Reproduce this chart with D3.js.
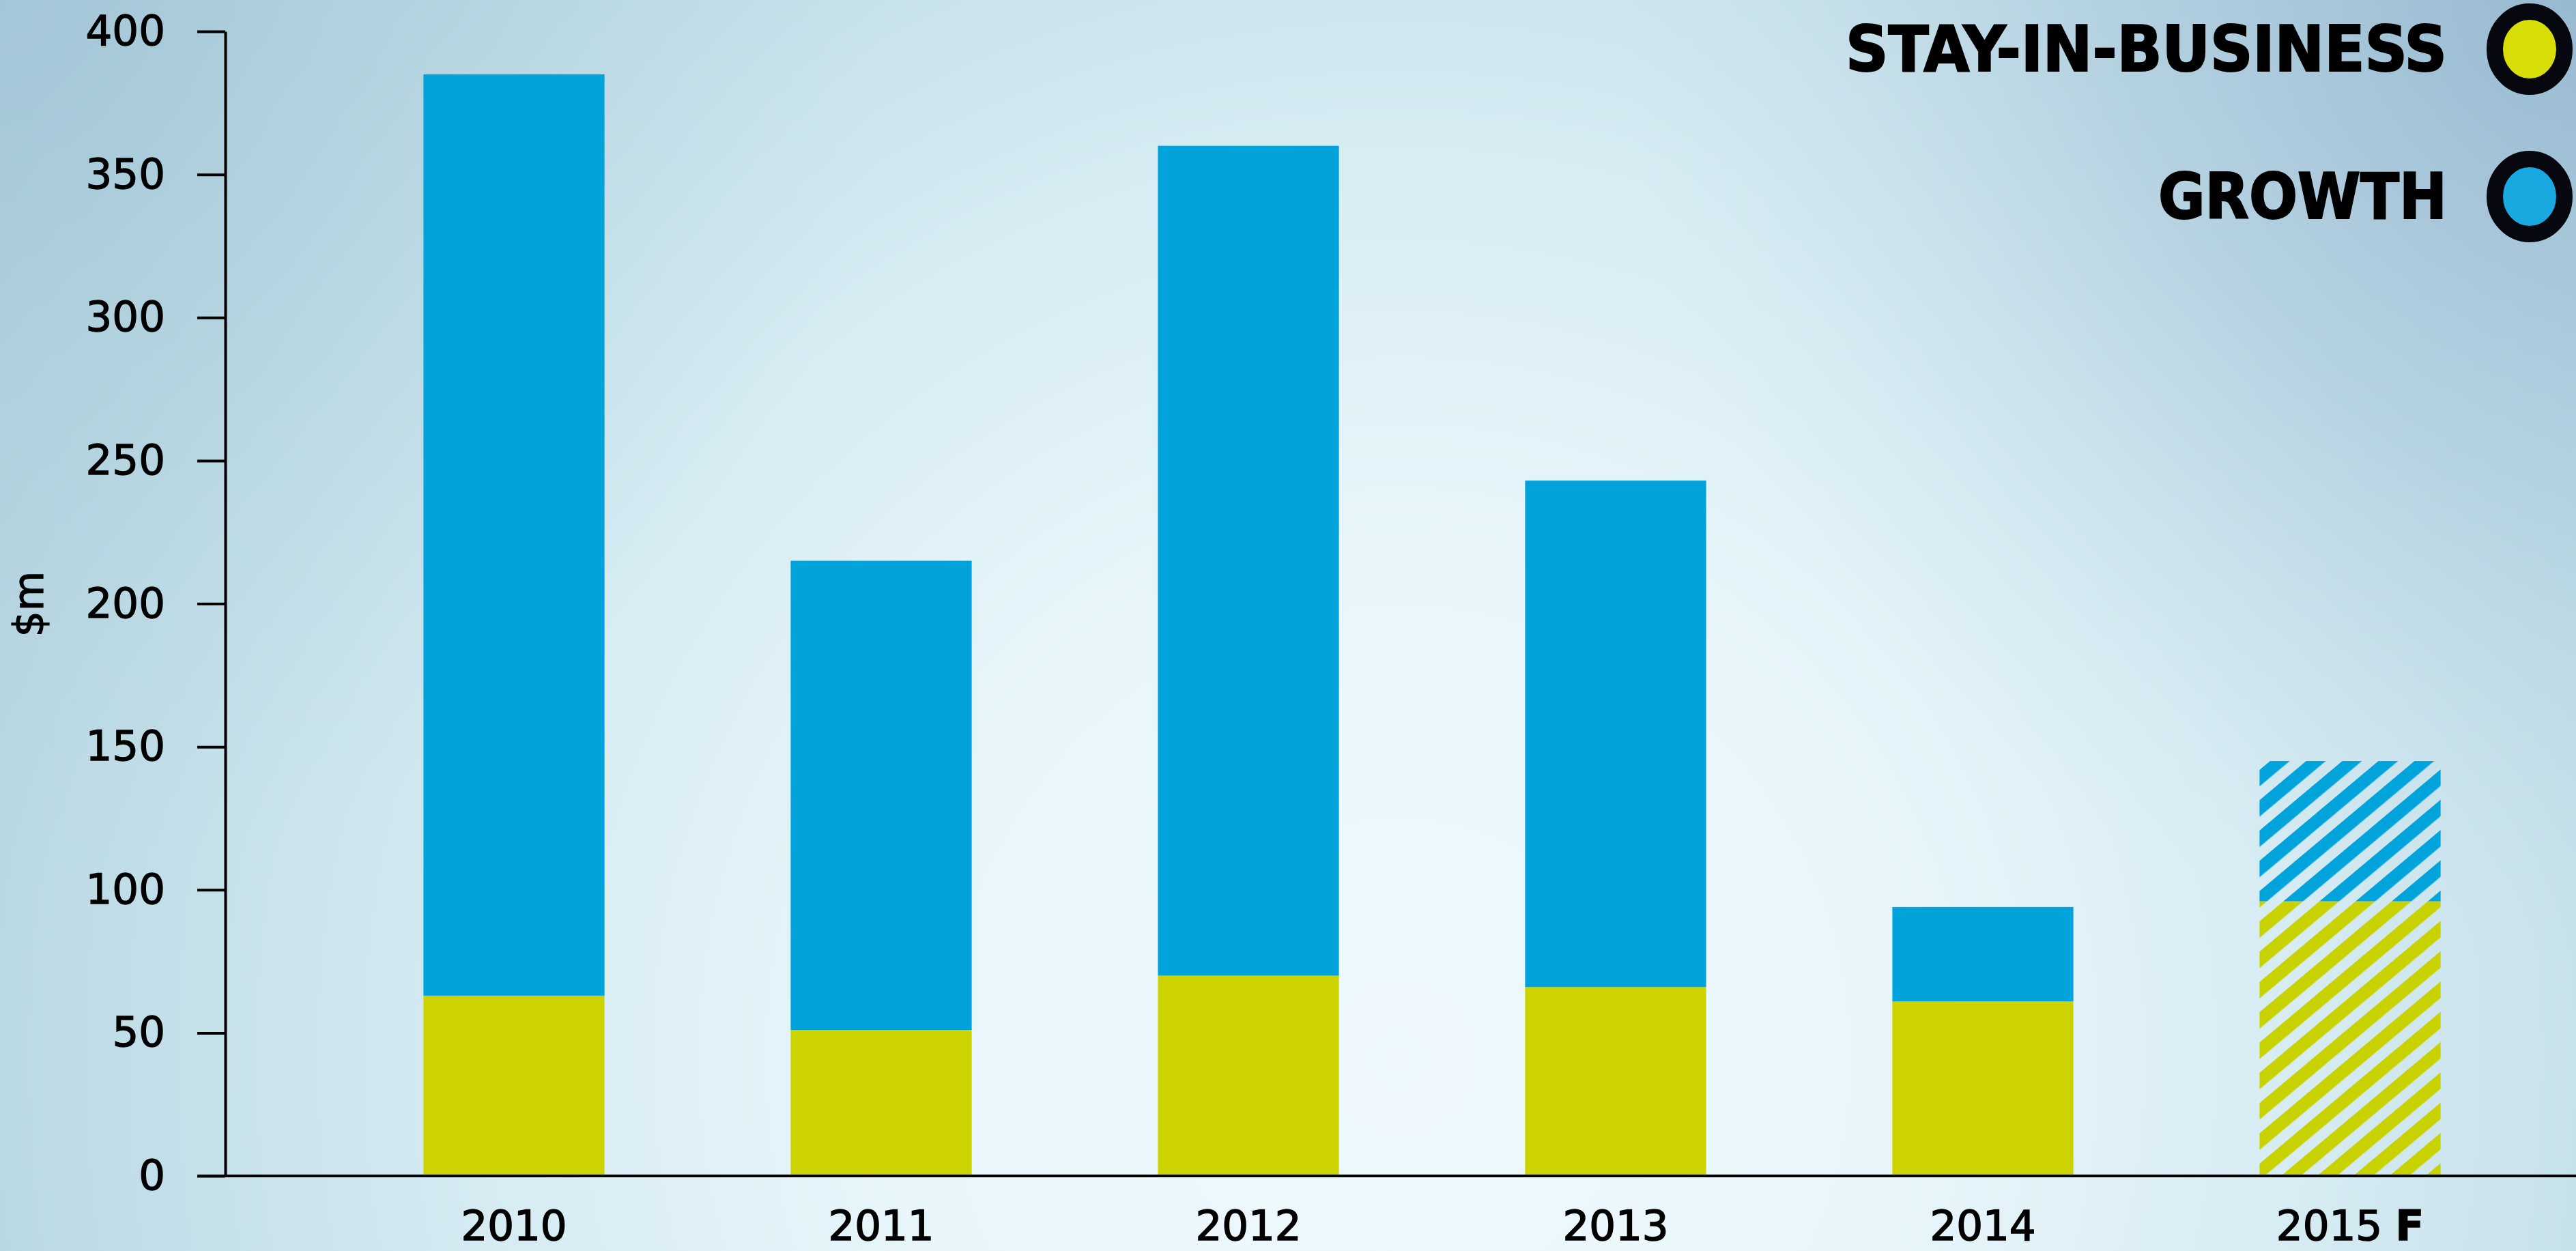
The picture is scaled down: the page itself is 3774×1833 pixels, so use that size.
<!DOCTYPE html>
<html>
<head>
<meta charset="utf-8">
<script src="https://cdn.jsdelivr.net/npm/d3@7"></script>
<style>
  html, body { margin: 0; padding: 0; overflow: hidden; }
  body { width: 3774px; height: 1833px; }
  svg { display: block; }
  text { font-family: "DejaVu Sans", Verdana, sans-serif; fill: #000; }
</style>
</head>
<body>
<svg id="chart" width="3774" height="1833"></svg>
<script>
// ---- data ----
const years = ["2010", "2011", "2012", "2013", "2014", "2015 F"];
const stayInBusiness = [63, 51, 70, 66, 61, 96];
const growth = [322, 164, 290, 177, 33, 49];
const forecast = [false, false, false, false, false, true];
const yTicks = [0, 50, 100, 150, 200, 250, 300, 350, 400];
const seriesNames = ["STAY-IN-BUSINESS", "GROWTH"];
const yLabel = "$m";

// ---- styles ----
const W = 3774, H = 1833;
const colStay = "#cdd300";
const colGrowth = "#02a3db";
const colStayHatch = "#c8d200";
const colGrowthHatch = "#00a3da";

const svg = d3.select("#chart");
const defs = svg.append("defs");

// background gradients
const bg = defs.append("radialGradient").attr("id", "bgBase")
  .attr("gradientUnits", "userSpaceOnUse")
  .attr("cx", 2050).attr("cy", 1550).attr("r", 2450);
[[0, "#eff9fd"], [0.3, "#e8f6fb"], [0.55, "#d6ebf2"], [0.8, "#bedbe6"], [1, "#abcdda"]]
  .forEach(([o, c]) => bg.append("stop").attr("offset", o).attr("stop-color", c));

const tr = defs.append("radialGradient").attr("id", "bgTR")
  .attr("gradientUnits", "userSpaceOnUse")
  .attr("cx", 3774).attr("cy", 0).attr("r", 1400);
[[0, "#93b5ce", 0.85], [0.5, "#a3c2d7", 0.45], [1, "#c0dae6", 0]]
  .forEach(([o, c, a]) => tr.append("stop").attr("offset", o).attr("stop-color", c).attr("stop-opacity", a));

const tl = defs.append("radialGradient").attr("id", "bgTL")
  .attr("gradientUnits", "userSpaceOnUse")
  .attr("cx", 0).attr("cy", 0).attr("r", 1300);
[[0, "#a1c4d6", 0.7], [1, "#b5d6e0", 0]]
  .forEach(([o, c, a]) => tl.append("stop").attr("offset", o).attr("stop-color", c).attr("stop-opacity", a));

svg.append("rect").attr("width", W).attr("height", H).attr("fill", "url(#bgBase)");
svg.append("rect").attr("width", W).attr("height", H).attr("fill", "url(#bgTL)");
svg.append("rect").attr("width", W).attr("height", H).attr("fill", "url(#bgTR)");

// hatch patterns
function hatch(id, color) {
  const p = defs.append("pattern").attr("id", id)
    .attr("patternUnits", "userSpaceOnUse")
    .attr("width", 34).attr("height", 34)
    .attr("patternTransform", "rotate(-40)");
  p.append("rect").attr("x", 0).attr("y", 0).attr("width", 34).attr("height", 18.5).attr("fill", color);
}
hatch("hatchStay", colStayHatch);
hatch("hatchGrowth", colGrowthHatch);

// ---- scales ----
const x = d3.scaleBand().domain(years).range([484, 3712]).paddingInner(0.507).paddingOuter(0.2535);
const y = d3.scaleLinear().domain([0, 400]).range([1723, 46]);

// ---- bars ----
const rows = years.map((yr, i) => ({ yr, stay: stayInBusiness[i], growth: growth[i], f: forecast[i] }));
const g = svg.append("g");
g.selectAll("rect.stay").data(rows).join("rect").attr("class", "stay")
  .attr("x", d => x(d.yr)).attr("width", x.bandwidth())
  .attr("y", d => y(d.stay)).attr("height", d => y(0) - y(d.stay))
  .attr("fill", d => d.f ? "url(#hatchStay)" : colStay);
g.selectAll("rect.growth").data(rows).join("rect").attr("class", "growth")
  .attr("x", d => x(d.yr)).attr("width", x.bandwidth())
  .attr("y", d => y(d.stay + d.growth)).attr("height", d => y(d.stay) - y(d.stay + d.growth))
  .attr("fill", d => d.f ? "url(#hatchGrowth)" : colGrowth);

// ---- axes ----
const yAxis = svg.append("g").attr("transform", "translate(330,0)")
  .call(d3.axisLeft(y).tickValues(yTicks).tickSize(41).tickSizeOuter(0).tickPadding(47));
yAxis.select(".domain").attr("stroke", "#000").attr("stroke-width", 4);
yAxis.selectAll(".tick line").attr("stroke", "#000").attr("stroke-width", 4);
yAxis.selectAll(".tick text").attr("font-size", 61).attr("font-family", "DejaVu Sans, Verdana, sans-serif")
  .attr("fill", "#000").attr("stroke", "#000").attr("stroke-width", 1.3);

// x baseline
svg.append("line").attr("x1", 289).attr("x2", W).attr("y1", y(0)).attr("y2", y(0))
  .attr("stroke", "#000").attr("stroke-width", 4);

const xAxis = svg.append("g").attr("transform", `translate(0,${y(0)})`)
  .call(d3.axisBottom(x).tickSize(0).tickPadding(51));
xAxis.select(".domain").remove();
xAxis.selectAll(".tick text").attr("font-size", 61).attr("font-family", "DejaVu Sans, Verdana, sans-serif")
  .attr("fill", "#000").attr("stroke", "#000").attr("stroke-width", 1.6)
  .each(function(d) {
    const t = d3.select(this);
    if (d.endsWith(" F")) {
      t.text("");
      t.append("tspan").text(d.slice(0, -1));
      t.append("tspan").attr("font-weight", "bold").text("F");
    }
  });

// y label
svg.append("text").attr("transform", "translate(63,885) rotate(-90)")
  .attr("text-anchor", "middle").attr("font-size", 60)
  .attr("stroke", "#000").attr("stroke-width", 1.3).text(yLabel);

// ---- legend ----
const legendY = [72, 288];
const legendW = [881, 423];
const legendFill = ["#d6de06", "#1aa8e0"];
const lg = svg.append("g");
seriesNames.forEach((name, i) => {
  lg.append("text").attr("x", 3585).attr("y", legendY[i] + 32)
    .attr("text-anchor", "end")
    .attr("font-family", "'DejaVu Sans Condensed', 'DejaVu Sans', sans-serif")
    .attr("font-stretch", "condensed")
    .attr("font-weight", "bold").attr("font-size", 92)
    .attr("stroke", "#000").attr("stroke-width", 2)
    .attr("textLength", legendW[i]).attr("lengthAdjust", "spacingAndGlyphs")
    .text(name);
  lg.append("ellipse").attr("cx", 3706).attr("cy", legendY[i]).attr("rx", 51).attr("ry", 55)
    .attr("fill", legendFill[i]).attr("stroke", "#07070f").attr("stroke-width", 24);
});
</script>
</body>
</html>
